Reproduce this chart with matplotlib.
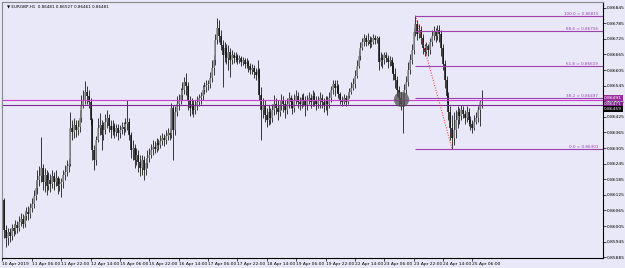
import matplotlib.pyplot as plt
from matplotlib.transforms import blended_transform_factory

# EURGBP H1 candles, prices in points (1e-5)
opens_pts = [
    86163, 86105, 85990, 85959, 85982, 85966, 85997, 85986, 86009, 85997,
    86020, 86032, 86013, 86043, 86059, 86051, 86074, 86090, 86120, 86151,
    86182, 86197, 86228, 86174, 86201, 86159, 86182, 86167, 86197, 86174,
    86190, 86159, 86167, 86174, 86201, 86213, 86236, 86244, 86382, 86367, 86394,
    86375, 86386, 86421, 86471, 86490, 86521, 86505, 86482, 86413, 86298,
    86259, 86336, 86382, 86394, 86355, 86375, 86405, 86421, 86390, 86375,
    86390, 86367, 86382, 86363, 86375, 86386, 86378, 86398, 86405, 86355,
    86298, 86305, 86259, 86278, 86251, 86228, 86259, 86221, 86247, 86267,
    86278, 86298, 86309, 86301, 86324, 86317, 86332, 86344, 86336, 86351,
    86363, 86355, 86459, 86375, 86444, 86475, 86490, 86509, 86529, 86559,
    86544, 86490, 86459, 86475, 86452, 86467, 86482, 86498, 86505, 86529,
    86540, 86548, 86552, 86575, 86613, 86644, 86721, 86767, 86736, 86702,
    86663, 86690, 86652, 86675, 86644, 86663, 86652, 86659, 86644, 86652,
    86636, 86644, 86629, 86636, 86621, 86606, 86613, 86598, 86586, 86606,
    86509, 86452, 86471, 86432, 86413, 86444, 86421, 86452, 86475, 86459,
    86444, 86467, 86490, 86475, 86452, 86475, 86498, 86482, 86459, 86490,
    86505, 86482, 86475, 86498, 86490, 86467, 86490, 86498, 86482, 86505,
    86490, 86475, 86490, 86498, 86482, 86467, 86490, 86475, 86498, 86529, 86552,
    86536, 86544, 86513, 86490, 86482, 86498, 86482, 86505, 86521, 86536,
    86552, 86582, 86621, 86659, 86690, 86713, 86729, 86713, 86721, 86706,
    86713, 86729, 86721, 86729, 86636, 86652, 86644, 86663, 86652, 86636,
    86644, 86621, 86590, 86567, 86529, 86498, 86475, 86490, 86529, 86559,
    86606, 86644, 86683, 86752, 86783, 86744, 86760, 86729, 86690, 86675,
    86698, 86683, 86713, 86736, 86752, 86736, 86760, 86744, 86690, 86629,
    86567, 86505, 86444, 86382, 86344, 86375, 86413, 86444, 86428, 86452,
    86436, 86421, 86444, 86413, 86398, 86382, 86405, 86421, 86452, 86481,
]
highs_pts = [
    86190, 86113, 86009, 85997, 85997, 86013, 86013, 86028, 86024, 86043,
    86055, 86051, 86063, 86078, 86082, 86093, 86113, 86144, 86182, 86221,
    86236, 86348, 86244, 86228, 86221, 86213, 86205, 86221, 86213, 86221,
    86197, 86190, 86190, 86221, 86240, 86259, 86267, 86444, 86413, 86421, 86413,
    86413, 86452, 86509, 86529, 86563, 86544, 86529, 86498, 86421, 86317,
    86351, 86421, 86440, 86413, 86405, 86436, 86452, 86436, 86413, 86413,
    86401, 86398, 86398, 86394, 86405, 86405, 86421, 86490, 86421, 86367,
    86336, 86321, 86305, 86298, 86278, 86278, 86274, 86267, 86298, 86305,
    86321, 86336, 86332, 86344, 86340, 86355, 86363, 86359, 86375, 86382,
    86382, 86478, 86471, 86467, 86505, 86513, 86536, 86559, 86579, 86594,
    86559, 86505, 86498, 86490, 86490, 86505, 86513, 86521, 86548, 86559,
    86567, 86567, 86598, 86644, 86663, 86744, 86806, 86798, 86760, 86721,
    86713, 86706, 86702, 86690, 86683, 86675, 86675, 86667, 86663, 86659,
    86656, 86652, 86652, 86644, 86632, 86629, 86625, 86613, 86644, 86613,
    86540, 86498, 86490, 86459, 86471, 86459, 86475, 86509, 86498, 86490,
    86490, 86513, 86505, 86490, 86498, 86521, 86509, 86498, 86513, 86529,
    86521, 86502, 86513, 86517, 86505, 86509, 86521, 86513, 86529, 86521,
    86505, 86505, 86521, 86513, 86498, 86505, 86505, 86521, 86544, 86567, 86567,
    86567, 86552, 86521, 86505, 86513, 86509, 86521, 86536, 86559, 86575,
    86606, 86644, 86683, 86713, 86729, 86744, 86740, 86748, 86736, 86733,
    86744, 86740, 86736, 86736, 86675, 86667, 86675, 86675, 86663, 86659,
    86656, 86636, 86613, 86582, 86544, 86521, 86517, 86552, 86582, 86636,
    86667, 86706, 86767, 86815, 86798, 86783, 86775, 86744, 86706, 86713,
    86706, 86729, 86760, 86775, 86767, 86779, 86779, 86760, 86706, 86644,
    86582, 86521, 86467, 86432, 86444, 86452, 86467, 86459, 86471, 86467,
    86452, 86467, 86459, 86428, 86413, 86432, 86444, 86467, 86490, 86527,
]
lows_pts = [
    86086, 85959, 85924, 85932, 85943, 85951, 85966, 85974, 85978, 85986,
    86005, 85997, 86001, 86028, 86028, 86036, 86059, 86074, 86105, 86128,
    86159, 86174, 86144, 86136, 86124, 86144, 86136, 86151, 86144, 86159,
    86128, 86140, 86117, 86151, 86182, 86197, 86213, 86236, 86336, 86344, 86348,
    86355, 86367, 86405, 86459, 86475, 86475, 86459, 86394, 86259, 86221,
    86240, 86328, 86355, 86298, 86336, 86359, 86382, 86367, 86344, 86355,
    86344, 86351, 86336, 86344, 86359, 86355, 86367, 86375, 86336, 86267,
    86259, 86228, 86240, 86213, 86197, 86201, 86182, 86201, 86228, 86251,
    86267, 86278, 86286, 86290, 86298, 86305, 86317, 86313, 86321, 86336,
    86336, 86344, 86259, 86355, 86428, 86452, 86475, 86490, 86513, 86509,
    86452, 86428, 86436, 86425, 86436, 86452, 86467, 86475, 86490, 86513,
    86521, 86529, 86536, 86559, 86586, 86625, 86706, 86713, 86683, 86540,
    86636, 86629, 86606, 86579, 86629, 86632, 86636, 86629, 86632, 86621,
    86625, 86613, 86613, 86598, 86590, 86590, 86575, 86567, 86575, 86490,
    86336, 86421, 86405, 86386, 86394, 86398, 86405, 86432, 86436, 86413,
    86428, 86452, 86444, 86421, 86436, 86459, 86459, 86436, 86444, 86475,
    86459, 86452, 86459, 86467, 86428, 86452, 86475, 86459, 86467, 86467,
    86452, 86459, 86459, 86459, 86444, 86452, 86432, 86459, 86482, 86513, 86505,
    86521, 86498, 86475, 86467, 86475, 86467, 86475, 86498, 86513, 86529,
    86536, 86575, 86613, 86644, 86683, 86698, 86698, 86702, 86690, 86694,
    86706, 86706, 86709, 86606, 86621, 86613, 86629, 86636, 86613, 86621,
    86598, 86567, 86536, 86505, 86471, 86452, 86363, 86467, 86513, 86544,
    86590, 86629, 86667, 86736, 86721, 86729, 86706, 86667, 86659, 86667,
    86659, 86667, 86698, 86721, 86713, 86721, 86713, 86659, 86606, 86536,
    86482, 86413, 86336, 86301, 86317, 86344, 86382, 86398, 86413, 86421,
    86398, 86405, 86390, 86375, 86363, 86375, 86398, 86405, 86390, 86461,
]
closes_pts = [
    86105, 85990, 85959, 85982, 85966, 85997, 85986, 86009, 85997, 86020,
    86032, 86013, 86043, 86059, 86051, 86074, 86090, 86120, 86151, 86182,
    86197, 86228, 86174, 86201, 86159, 86182, 86167, 86197, 86174, 86190,
    86159, 86167, 86174, 86201, 86213, 86236, 86244, 86382, 86367, 86394, 86375,
    86386, 86421, 86471, 86490, 86521, 86505, 86482, 86413, 86298, 86259,
    86336, 86382, 86394, 86355, 86375, 86405, 86421, 86390, 86375, 86390,
    86367, 86382, 86363, 86375, 86386, 86378, 86398, 86405, 86355, 86298,
    86305, 86259, 86278, 86251, 86228, 86259, 86221, 86247, 86267, 86278,
    86298, 86309, 86301, 86324, 86317, 86332, 86344, 86336, 86351, 86363,
    86355, 86459, 86375, 86444, 86475, 86490, 86509, 86529, 86559, 86544,
    86490, 86459, 86475, 86452, 86467, 86482, 86498, 86505, 86529, 86540,
    86548, 86552, 86575, 86613, 86644, 86721, 86767, 86736, 86702, 86663,
    86690, 86652, 86675, 86644, 86663, 86652, 86659, 86644, 86652, 86636,
    86644, 86629, 86636, 86621, 86606, 86613, 86598, 86586, 86606, 86509,
    86452, 86471, 86432, 86413, 86444, 86421, 86452, 86475, 86459, 86444,
    86467, 86490, 86475, 86452, 86475, 86498, 86482, 86459, 86490, 86505,
    86482, 86475, 86498, 86490, 86467, 86490, 86498, 86482, 86505, 86490,
    86475, 86490, 86498, 86482, 86467, 86490, 86475, 86498, 86529, 86552, 86536,
    86544, 86513, 86490, 86482, 86498, 86482, 86505, 86521, 86536, 86552,
    86582, 86621, 86659, 86690, 86713, 86729, 86713, 86721, 86706, 86713,
    86729, 86721, 86729, 86636, 86652, 86644, 86663, 86652, 86636, 86644,
    86621, 86590, 86567, 86529, 86498, 86475, 86490, 86529, 86559, 86606,
    86644, 86683, 86752, 86783, 86744, 86760, 86729, 86690, 86675, 86698,
    86683, 86713, 86736, 86752, 86736, 86760, 86744, 86690, 86629, 86567,
    86505, 86444, 86382, 86344, 86375, 86413, 86444, 86428, 86452, 86436,
    86421, 86444, 86413, 86398, 86382, 86405, 86421, 86452, 86481, 86481,
]

time_labels = ["10 Apr 2019", "11 Apr 06:00", "11 Apr 22:00", "12 Apr 14:00",
               "15 Apr 06:00", "15 Apr 22:00", "16 Apr 14:00", "17 Apr 06:00",
               "17 Apr 22:00", "18 Apr 14:00", "19 Apr 06:00", "19 Apr 22:00",
               "22 Apr 14:00", "23 Apr 06:00", "23 Apr 22:00", "24 Apr 14:00",
               "25 Apr 06:00"]
price_ticks = [0.85885, 0.85945, 0.86005, 0.86065, 0.86125, 0.86185, 0.86245,
               0.86305, 0.86365, 0.86425, 0.86485, 0.86545, 0.86605, 0.86665,
               0.86725, 0.86785, 0.86845]

# fibo retracement (high -> low)
fib_levels = [100.0, 88.6, 61.8, 38.2, 0.0]
fib_prices = [0.86815, 0.86756, 0.86619, 0.86497, 0.86301]
fib_start_bar = 225
fib_end_bar = 245
hline_magenta = 0.86490
hline_purple = 0.86471
circle_bar = 217.4
circle_price = 0.86494
header = "\u25bc EURGBP,H1  0.86481 0.86527 0.86461 0.86481"
right_labels = [(0.86497, "0.86491", "#9c2ca0"), (0.86473, "0.86471", "#7a1f86"),
                (0.86455, "0.86459", "#000000")]

opens = [v / 1e5 for v in opens_pts]
highs = [v / 1e5 for v in highs_pts]
lows = [v / 1e5 for v in lows_pts]
closes = [v / 1e5 for v in closes_pts]
n = len(closes)
xs = list(range(n))

bg = '#e8e8f8'
fig = plt.figure(figsize=(6.25, 2.68), dpi=100, facecolor=bg)
ax = fig.add_axes([2 / 625, 10 / 268, 601 / 625, 256 / 268])
ax.set_facecolor(bg)

bull = [i for i in xs if closes[i] >= opens[i]]
bear = [i for i in xs if closes[i] < opens[i]]
# wicks then bodies
ax.vlines(xs, lows, highs, color='#1a1a1a', lw=0.6)
ax.vlines(bull, [opens[i] for i in bull], [closes[i] for i in bull], color='#8c8c8c', lw=1.1)
ax.vlines(bear, [closes[i] for i in bear], [opens[i] for i in bear], color='#111111', lw=1.1)

xmax = 327.2
ax.set_xlim(-0.27, xmax)
ax.set_ylim(0.85882, 0.86867)

ax.axhline(hline_magenta, color='#d23ad2', lw=0.8)
ax.axhline(hline_purple, color='#7a2a8c', lw=0.8)

for lev, p in zip(fib_levels, fib_prices):
    ax.hlines(p, fib_start_bar, xmax, color='#a040b0', lw=0.8)
    ax.text(0.992, p, f"{lev:.1f} = {p:.5f}", transform=blended_transform_factory(ax.transAxes, ax.transData),
            ha='right', va='bottom', fontsize=3.0, color='#a040b0')
ax.plot([fib_start_bar, fib_end_bar], [fib_prices[0], fib_prices[-1]], color='#ff2020', lw=0.7, ls=':')

ax.scatter([circle_bar], [circle_price], s=120, color='#505050', alpha=0.75, zorder=3, linewidths=0)

ax.text(0.008, 0.99, header, transform=ax.transAxes, ha='left', va='top', fontsize=3.0, color='#000000')

ax.yaxis.tick_right()
ax.set_yticks(price_ticks)
ax.set_yticklabels([f"{p:.5f}" for p in price_ticks])
ax.set_xticks(list(range(0, n, 16)))
ax.set_xticklabels(time_labels, ha='left')
ax.tick_params(axis='both', labelsize=3.2, length=2, width=0.5, pad=1, colors='#000000')

for y, txt, c in right_labels:
    ax.text(1.002, y, txt, transform=blended_transform_factory(ax.transAxes, ax.transData),
            ha='left', va='center', fontsize=3.2, color='white', clip_on=False,
            bbox=dict(boxstyle='square,pad=0.15', fc=c, ec='none'))

for s in ['left', 'top']:
    ax.spines[s].set_color('#888888')
    ax.spines[s].set_linewidth(0.8)
for s in ['right', 'bottom']:
    ax.spines[s].set_color('#000000')
    ax.spines[s].set_linewidth(0.8)

fig.savefig('out.png', dpi=100, facecolor=bg)
